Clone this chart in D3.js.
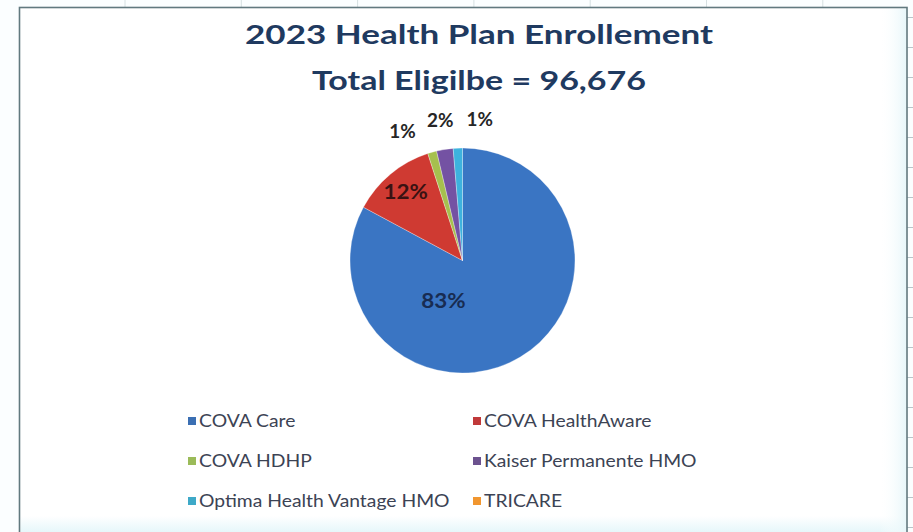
<!DOCTYPE html>
<html>
<head>
<meta charset="utf-8">
<script src="https://cdn.jsdelivr.net/npm/d3@7"></script>
<style>
  html, body { margin: 0; padding: 0; background: #ffffff; }
  svg { display: block; }
</style>
</head>
<body>
<svg id="chart" width="913" height="532"></svg>
<script>
// ---- data ----
const titleLines = ["2023 Health Plan Enrollement", "Total Eligilbe = 96,676"];
const categories = [
  "COVA Care",
  "COVA HealthAware",
  "COVA HDHP",
  "Kaiser Permanente HMO",
  "Optima Health Vantage HMO",
  "TRICARE"
];
const enrollment = [80100, 11750, 1250, 2300, 1276, 0];

// ---- styling ----
const sliceColors = ["#3a75c3", "#cf3a32", "#a6c04e", "#7452a3", "#3db2de", "#f39a3c"];
const legendColors = ["#3b6fb3", "#c0393a", "#9bbb59", "#6c528f", "#3ea9c8", "#f1962f"];
const FONT = "Lato, 'Open Sans', sans-serif";

const W = 913, H = 532;
const svg = d3.select("#chart");

// sheet behind the chart object
svg.append("rect").attr("width", W).attr("height", H).attr("fill", "#fbfeff");

// cell gridline stubs peeking out around the chart object
const frame = { x: 19.5, y: 7.5, right: 907, bottom: 560 };
svg.append("g")
  .selectAll("line")
  .data(d3.range(17, H, 30))
  .join("line")
  .attr("x1", frame.right).attr("x2", W)
  .attr("y1", d => d + 0.5).attr("y2", d => d + 0.5)
  .attr("stroke", "#b9c6ca").attr("stroke-width", 1);
svg.append("g")
  .selectAll("line")
  .data(d3.range(125, W, 116.3))
  .join("line")
  .attr("x1", d => d).attr("x2", d => d)
  .attr("y1", 0).attr("y2", frame.y)
  .attr("stroke", "#d6e0e2").attr("stroke-width", 1);

// chart area
const defs = svg.append("defs");
const band = defs.append("linearGradient")
  .attr("id", "bottomBand").attr("x1", 0).attr("y1", 0).attr("x2", 0).attr("y2", 1);
band.append("stop").attr("offset", "0%").attr("stop-color", "#ffffff");
band.append("stop").attr("offset", "100%").attr("stop-color", "#e6f7fa");
const edge = defs.append("linearGradient")
  .attr("id", "rightEdge").attr("x1", 0).attr("y1", 0).attr("x2", 1).attr("y2", 0);
edge.append("stop").attr("offset", "0%").attr("stop-color", "#ffffff").attr("stop-opacity", 0);
edge.append("stop").attr("offset", "100%").attr("stop-color", "#e8f7fa").attr("stop-opacity", 1);

svg.append("rect")
  .attr("x", frame.x).attr("y", frame.y)
  .attr("width", frame.right - frame.x).attr("height", frame.bottom - frame.y)
  .attr("fill", "#ffffff");
svg.append("rect")
  .attr("x", frame.x + 1).attr("y", 516)
  .attr("width", frame.right - frame.x - 2).attr("height", H - 516)
  .attr("fill", "url(#bottomBand)");
svg.append("rect")
  .attr("x", frame.right - 28).attr("y", frame.y + 1)
  .attr("width", 27).attr("height", H - frame.y)
  .attr("fill", "url(#rightEdge)");
svg.append("rect")
  .attr("x", frame.x).attr("y", frame.y)
  .attr("width", frame.right - frame.x).attr("height", frame.bottom - frame.y)
  .attr("fill", "none")
  .attr("stroke", "#61797f").attr("stroke-width", 1.6);

// stretch a text node horizontally to a given width
function fitWidth(sel, width) {
  sel.attr("textLength", width).attr("lengthAdjust", "spacingAndGlyphs");
}
// widen a text node by a constant factor over its natural width
function widen(sel, factor) {
  sel.each(function () {
    const w = this.getComputedTextLength();
    d3.select(this).attr("textLength", w * factor).attr("lengthAdjust", "spacingAndGlyphs");
  });
}
const STRETCH = 1.17;

// ---- title ----
const titleWidths = [468, 334];
const titleBaselines = [44, 90];
svg.append("g").selectAll("text")
  .data(titleLines)
  .join("text")
  .attr("x", 479)
  .attr("y", (d, i) => titleBaselines[i])
  .attr("text-anchor", "middle")
  .attr("font-family", FONT)
  .attr("font-weight", 700)
  .attr("font-size", 27.5)
  .attr("fill", "#1f3a60")
  .text(d => d)
  .each(function (d, i) { fitWidth(d3.select(this), titleWidths[i]); });

// ---- pie ----
const cx = 462.5, cy = 260.5, r = 112.5;
const total = d3.sum(enrollment);
const rows = categories.map((c, i) => ({ name: c, value: enrollment[i], idx: i }));
const color = d3.scaleOrdinal().domain(categories).range(sliceColors);

const pie = d3.pie().sort(null).value(d => d.value).startAngle(0).endAngle(2 * Math.PI);
const arcs = pie(rows);
const arc = d3.arc().innerRadius(0).outerRadius(r);

const gPie = svg.append("g").attr("transform", `translate(${cx},${cy})`);
gPie.selectAll("path")
  .data(arcs.filter(d => d.value > 0))
  .join("path")
  .attr("d", arc)
  .attr("fill", d => color(d.data.name))
  .attr("stroke", "#ffffff")
  .attr("stroke-width", 0.3);

// ---- data labels ----
const pctText = d => Math.round(d.value / total * 100) + "%";
const mid = d => (d.startAngle + d.endAngle) / 2;
const polar = (a, rad) => [Math.sin(a) * rad, -Math.cos(a) * rad];

const labelled = arcs.filter(d => d.value > 0);
const inside = labelled.filter(d => d.value / total >= 0.05);
const outside = labelled.filter(d => d.value / total < 0.05);

// inside labels: the largest wedge's label sits low-left of the hub,
// the others ride along their bisector near the rim
const insideColors = ["#182c52", "#3a1212"];
inside.forEach((d, k) => {
  const big = d.value / total > 0.5;
  const p = big ? polar(mid(d) + 56 * Math.PI / 180, r * 0.40) : polar(mid(d), r * 0.79);
  gPie.append("text")
    .attr("x", p[0]).attr("y", p[1])
    .attr("dy", "0.36em")
    .attr("text-anchor", "middle")
    .attr("font-family", FONT)
    .attr("font-weight", 700)
    .attr("font-size", 20)
    .attr("fill", insideColors[k] || "#222")
    .text(pctText(d))
    .call(widen, 1.12);
});

// outside labels: start on the bisector, then fan apart so they don't collide
const outR = 142;
const minGap = 16 * Math.PI / 180;
const outAngles = outside.map(d => mid(d) - 2 * Math.PI);
for (let it = 0; it < 200; it++) {
  for (let i = 1; i < outAngles.length; i++) {
    const gap = outAngles[i] - outAngles[i - 1];
    if (gap < minGap) {
      const push = (minGap - gap) / 2;
      outAngles[i - 1] -= push;
      outAngles[i] += push;
    }
  }
}
outside.forEach((d, i) => {
  const p = polar(outAngles[i], outR);
  gPie.append("text")
    .attr("x", p[0]).attr("y", p[1])
    .attr("dy", "0.36em")
    .attr("text-anchor", "middle")
    .attr("font-family", FONT)
    .attr("font-weight", 700)
    .attr("font-size", 18)
    .attr("fill", "#262626")
    .text(pctText(d))
    .call(widen, 1.05);
});

// ---- legend ----
const legendCols = [188, 473];
const legendRows = [421, 461, 501];
const gLeg = svg.append("g");
categories.forEach((name, i) => {
  const x = legendCols[i % 2];
  const y = legendRows[Math.floor(i / 2)];
  gLeg.append("rect")
    .attr("x", x).attr("y", y - 4)
    .attr("width", 8).attr("height", 8)
    .attr("fill", legendColors[i]);
  gLeg.append("text")
    .attr("x", x + 11).attr("y", y + 6)
    .attr("font-family", FONT)
    .attr("font-size", 16.5)
    .attr("fill", "#3c4354")
    .text(name)
    .call(widen, STRETCH);
});
</script>
</body>
</html>
